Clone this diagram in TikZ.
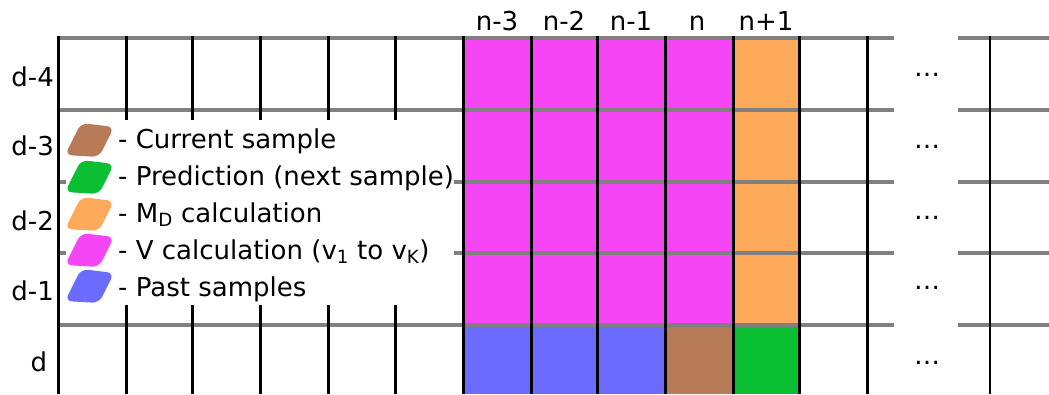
\documentclass[tikz,border=0pt]{standalone}
\usepackage{fontspec}
\setmainfont{DejaVu Sans}
\definecolor{cmag}{RGB}{245,69,245}
\definecolor{corange}{RGB}{255,170,90}
\definecolor{cblue}{RGB}{107,107,255}
\definecolor{cbrown}{RGB}{184,123,88}
\definecolor{cgreen}{RGB}{10,192,50}
\definecolor{cgrey}{RGB}{128,128,128}
\begin{document}
\begin{tikzpicture}[x=1pt,y=-1pt,
  gridv/.style={line width=3pt,black},
  gridh/.style={line width=4pt,cgrey},
  lab/.style={font=\fontsize{26}{31}\selectfont,inner sep=0pt,anchor=base},
  legtext/.style={lab,anchor=base west},
  blob/.style={rounded corners=7pt}]
\useasboundingbox (0,0) rectangle (1049,394);
% coloured cells
\fill[cmag] (463,38) rectangle (733,325);
\fill[corange] (733,38) rectangle (799,325);
\fill[cblue] (463,325) rectangle (665,394);
\fill[cbrown] (665,325) rectangle (733,394);
\fill[cgreen] (733,325) rectangle (799,394);
% horizontal grey lines
\foreach \y in {38,110,182,253,325} {
  \draw[gridh] (58,\y) -- (894,\y);
  \draw[gridh] (958,\y) -- (1049,\y);
}
% vertical black lines
\foreach \x in {58,126,192,260,328,395,463,531,597,665,733,799,867}
  \draw[gridv] (\x,36) -- (\x,394);
\draw[line width=1.7pt] (990,36) -- (990,394);
% legend box
\fill[white] (66,120) rectangle (454,305);
\fill[cbrown,blob,shift={(90,140)}] (-9,-17) -- (24,-13) -- (9,17) -- (-25,15) -- cycle;
\fill[cgreen,blob,shift={(90,177)}] (-9,-17) -- (24,-13) -- (9,17) -- (-25,15) -- cycle;
\fill[corange,blob,shift={(90,214)}] (-9,-17) -- (24,-13) -- (9,17) -- (-25,15) -- cycle;
\fill[cmag,blob,shift={(90,250)}] (-9,-17) -- (24,-13) -- (9,17) -- (-25,15) -- cycle;
\fill[cblue,blob,shift={(90,286)}] (-9,-17) -- (24,-13) -- (9,17) -- (-25,15) -- cycle;
\node[legtext] (l1) at (118,148) {- Current sample};
\node[legtext] (l2) at (118,185) {- Prediction (next sample)};
\node[legtext] (l3) at (118,222) {- M\textsubscript{D} calculation};
\node[legtext] (l4) at (118,259) {- V calculation (v\textsubscript{1} to v\textsubscript{K})};
\node[legtext] (l5) at (118,296) {- Past samples};
% column labels
\node[lab] (cn3) at (497,30) {n-3};
\node[lab] (cn2) at (564,30) {n-2};
\node[lab] (cn1) at (631,30) {n-1};
\node[lab] (cn0) at (697,30) {n};
\node[lab] (cp1) at (766,30) {n+1};
% row labels
\node[lab,anchor=base east] (r4) at (54,86) {d-4};
\node[lab,anchor=base east] (r3) at (54,155) {d-3};
\node[lab,anchor=base east] (r2) at (54,230) {d-2};
\node[lab,anchor=base east] (r1) at (54,300) {d-1};
\node[lab] (r0) at (39,371) {d};
% ellipses
\node[lab] (e4) at (927,76) {…};
\node[lab] (e3) at (927,148) {…};
\node[lab] (e2) at (927,219) {…};
\node[lab] (e1) at (927,289) {…};
\node[lab] (e0) at (927,364) {…};
\end{tikzpicture}
\end{document}
